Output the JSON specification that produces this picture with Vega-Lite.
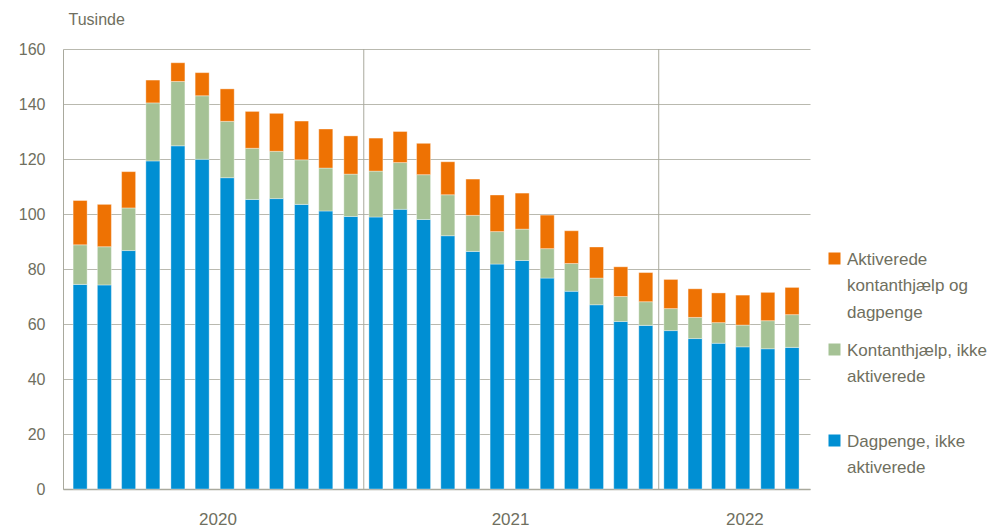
{
  "$schema": "https://vega.github.io/schema/vega-lite/v6.json",
  "width": 747,
  "height": 440,
  "autosize": {"type": "none"},
  "padding": {"left": 63, "top": 49, "right": 183, "bottom": 38},
  "background": "white",
  "config": {
    "view": {"stroke": null},
    "font": "Liberation Sans",
    "style": {"guide-label": {"lineHeight": 26.5}}
  },
  "datasets": {
    "ledige": [
      {"month": "2020-01-16", "serie": "Dagpenge, ikke aktiverede", "value": 74.4},
      {"month": "2020-01-16", "serie": "Kontanthjælp, ikke aktiverede", "value": 14.4},
      {"month": "2020-01-16", "serie": "Aktiverede kontanthjælp og dagpenge", "value": 16.1},
      {"month": "2020-02-15", "serie": "Dagpenge, ikke aktiverede", "value": 74.2},
      {"month": "2020-02-15", "serie": "Kontanthjælp, ikke aktiverede", "value": 13.9},
      {"month": "2020-02-15", "serie": "Aktiverede kontanthjælp og dagpenge", "value": 15.4},
      {"month": "2020-03-16", "serie": "Dagpenge, ikke aktiverede", "value": 86.7},
      {"month": "2020-03-16", "serie": "Kontanthjælp, ikke aktiverede", "value": 15.5},
      {"month": "2020-03-16", "serie": "Aktiverede kontanthjælp og dagpenge", "value": 13.2},
      {"month": "2020-04-15", "serie": "Dagpenge, ikke aktiverede", "value": 119.3},
      {"month": "2020-04-15", "serie": "Kontanthjælp, ikke aktiverede", "value": 21.1},
      {"month": "2020-04-15", "serie": "Aktiverede kontanthjælp og dagpenge", "value": 8.3},
      {"month": "2020-05-16", "serie": "Dagpenge, ikke aktiverede", "value": 124.8},
      {"month": "2020-05-16", "serie": "Kontanthjælp, ikke aktiverede", "value": 23.4},
      {"month": "2020-05-16", "serie": "Aktiverede kontanthjælp og dagpenge", "value": 6.8},
      {"month": "2020-06-15", "serie": "Dagpenge, ikke aktiverede", "value": 119.9},
      {"month": "2020-06-15", "serie": "Kontanthjælp, ikke aktiverede", "value": 23.1},
      {"month": "2020-06-15", "serie": "Aktiverede kontanthjælp og dagpenge", "value": 8.4},
      {"month": "2020-07-16", "serie": "Dagpenge, ikke aktiverede", "value": 113.2},
      {"month": "2020-07-16", "serie": "Kontanthjælp, ikke aktiverede", "value": 20.5},
      {"month": "2020-07-16", "serie": "Aktiverede kontanthjælp og dagpenge", "value": 11.8},
      {"month": "2020-08-16", "serie": "Dagpenge, ikke aktiverede", "value": 105.3},
      {"month": "2020-08-16", "serie": "Kontanthjælp, ikke aktiverede", "value": 18.6},
      {"month": "2020-08-16", "serie": "Aktiverede kontanthjælp og dagpenge", "value": 13.4},
      {"month": "2020-09-15", "serie": "Dagpenge, ikke aktiverede", "value": 105.6},
      {"month": "2020-09-15", "serie": "Kontanthjælp, ikke aktiverede", "value": 17.2},
      {"month": "2020-09-15", "serie": "Aktiverede kontanthjælp og dagpenge", "value": 13.8},
      {"month": "2020-10-16", "serie": "Dagpenge, ikke aktiverede", "value": 103.5},
      {"month": "2020-10-16", "serie": "Kontanthjælp, ikke aktiverede", "value": 16.2},
      {"month": "2020-10-16", "serie": "Aktiverede kontanthjælp og dagpenge", "value": 14.1},
      {"month": "2020-11-15", "serie": "Dagpenge, ikke aktiverede", "value": 101.1},
      {"month": "2020-11-15", "serie": "Kontanthjælp, ikke aktiverede", "value": 15.6},
      {"month": "2020-11-15", "serie": "Aktiverede kontanthjælp og dagpenge", "value": 14.2},
      {"month": "2020-12-16", "serie": "Dagpenge, ikke aktiverede", "value": 99.1},
      {"month": "2020-12-16", "serie": "Kontanthjælp, ikke aktiverede", "value": 15.4},
      {"month": "2020-12-16", "serie": "Aktiverede kontanthjælp og dagpenge", "value": 13.9},
      {"month": "2021-01-16", "serie": "Dagpenge, ikke aktiverede", "value": 98.9},
      {"month": "2021-01-16", "serie": "Kontanthjælp, ikke aktiverede", "value": 16.7},
      {"month": "2021-01-16", "serie": "Aktiverede kontanthjælp og dagpenge", "value": 12.0},
      {"month": "2021-02-15", "serie": "Dagpenge, ikke aktiverede", "value": 101.7},
      {"month": "2021-02-15", "serie": "Kontanthjælp, ikke aktiverede", "value": 17.0},
      {"month": "2021-02-15", "serie": "Aktiverede kontanthjælp og dagpenge", "value": 11.3},
      {"month": "2021-03-16", "serie": "Dagpenge, ikke aktiverede", "value": 98.0},
      {"month": "2021-03-16", "serie": "Kontanthjælp, ikke aktiverede", "value": 16.3},
      {"month": "2021-03-16", "serie": "Aktiverede kontanthjælp og dagpenge", "value": 11.4},
      {"month": "2021-04-15", "serie": "Dagpenge, ikke aktiverede", "value": 92.1},
      {"month": "2021-04-15", "serie": "Kontanthjælp, ikke aktiverede", "value": 14.9},
      {"month": "2021-04-15", "serie": "Aktiverede kontanthjælp og dagpenge", "value": 12.0},
      {"month": "2021-05-16", "serie": "Dagpenge, ikke aktiverede", "value": 86.4},
      {"month": "2021-05-16", "serie": "Kontanthjælp, ikke aktiverede", "value": 13.1},
      {"month": "2021-05-16", "serie": "Aktiverede kontanthjælp og dagpenge", "value": 13.2},
      {"month": "2021-06-15", "serie": "Dagpenge, ikke aktiverede", "value": 81.8},
      {"month": "2021-06-15", "serie": "Kontanthjælp, ikke aktiverede", "value": 11.8},
      {"month": "2021-06-15", "serie": "Aktiverede kontanthjælp og dagpenge", "value": 13.3},
      {"month": "2021-07-16", "serie": "Dagpenge, ikke aktiverede", "value": 83.1},
      {"month": "2021-07-16", "serie": "Kontanthjælp, ikke aktiverede", "value": 11.4},
      {"month": "2021-07-16", "serie": "Aktiverede kontanthjælp og dagpenge", "value": 13.1},
      {"month": "2021-08-16", "serie": "Dagpenge, ikke aktiverede", "value": 76.7},
      {"month": "2021-08-16", "serie": "Kontanthjælp, ikke aktiverede", "value": 10.7},
      {"month": "2021-08-16", "serie": "Aktiverede kontanthjælp og dagpenge", "value": 12.2},
      {"month": "2021-09-15", "serie": "Dagpenge, ikke aktiverede", "value": 71.9},
      {"month": "2021-09-15", "serie": "Kontanthjælp, ikke aktiverede", "value": 10.1},
      {"month": "2021-09-15", "serie": "Aktiverede kontanthjælp og dagpenge", "value": 11.9},
      {"month": "2021-10-16", "serie": "Dagpenge, ikke aktiverede", "value": 67.0},
      {"month": "2021-10-16", "serie": "Kontanthjælp, ikke aktiverede", "value": 9.7},
      {"month": "2021-10-16", "serie": "Aktiverede kontanthjælp og dagpenge", "value": 11.3},
      {"month": "2021-11-15", "serie": "Dagpenge, ikke aktiverede", "value": 60.9},
      {"month": "2021-11-15", "serie": "Kontanthjælp, ikke aktiverede", "value": 9.1},
      {"month": "2021-11-15", "serie": "Aktiverede kontanthjælp og dagpenge", "value": 10.8},
      {"month": "2021-12-16", "serie": "Dagpenge, ikke aktiverede", "value": 59.5},
      {"month": "2021-12-16", "serie": "Kontanthjælp, ikke aktiverede", "value": 8.6},
      {"month": "2021-12-16", "serie": "Aktiverede kontanthjælp og dagpenge", "value": 10.6},
      {"month": "2022-01-16", "serie": "Dagpenge, ikke aktiverede", "value": 57.6},
      {"month": "2022-01-16", "serie": "Kontanthjælp, ikke aktiverede", "value": 8.0},
      {"month": "2022-01-16", "serie": "Aktiverede kontanthjælp og dagpenge", "value": 10.6},
      {"month": "2022-02-15", "serie": "Dagpenge, ikke aktiverede", "value": 54.7},
      {"month": "2022-02-15", "serie": "Kontanthjælp, ikke aktiverede", "value": 7.7},
      {"month": "2022-02-15", "serie": "Aktiverede kontanthjælp og dagpenge", "value": 10.4},
      {"month": "2022-03-16", "serie": "Dagpenge, ikke aktiverede", "value": 53.0},
      {"month": "2022-03-16", "serie": "Kontanthjælp, ikke aktiverede", "value": 7.5},
      {"month": "2022-03-16", "serie": "Aktiverede kontanthjælp og dagpenge", "value": 10.8},
      {"month": "2022-04-15", "serie": "Dagpenge, ikke aktiverede", "value": 51.7},
      {"month": "2022-04-15", "serie": "Kontanthjælp, ikke aktiverede", "value": 7.9},
      {"month": "2022-04-15", "serie": "Aktiverede kontanthjælp og dagpenge", "value": 10.9},
      {"month": "2022-05-16", "serie": "Dagpenge, ikke aktiverede", "value": 51.0},
      {"month": "2022-05-16", "serie": "Kontanthjælp, ikke aktiverede", "value": 10.2},
      {"month": "2022-05-16", "serie": "Aktiverede kontanthjælp og dagpenge", "value": 10.3},
      {"month": "2022-06-15", "serie": "Dagpenge, ikke aktiverede", "value": 51.5},
      {"month": "2022-06-15", "serie": "Kontanthjælp, ikke aktiverede", "value": 11.9},
      {"month": "2022-06-15", "serie": "Aktiverede kontanthjælp og dagpenge", "value": 9.9}
    ],
    "aarsskift": [
      {"year_start": "2021-01-01"},
      {"year_start": "2022-01-01"}
    ]
  },
  "layer": [
    {
      "data": {"name": "aarsskift"},
      "mark": {"type": "rule", "color": "#a9a99d", "strokeWidth": 1},
      "encoding": {
        "x": {
          "field": "year_start",
          "type": "temporal",
          "scale": {
            "type": "utc",
            "domain": [
              {"year": 2020, "month": 1, "date": 1, "utc": true},
              {"year": 2022, "month": 7, "date": 1, "utc": true}
            ]
          },
          "axis": {
            "title": null,
            "values": [
              {"year": 2020, "month": 7, "date": 4, "utc": true},
              {"year": 2021, "month": 7, "date": 1, "utc": true},
              {"year": 2022, "month": 4, "date": 17, "utc": true}
            ],
            "labelExpr": "utcFormat(datum.value, '%Y')",
            "grid": false,
            "ticks": false,
            "domain": true,
            "domainColor": "#a9a99d",
            "domainWidth": 1.5,
            "labelFontSize": 17,
            "labelColor": "#6f6f60",
            "labelPadding": 22,
            "labelFlush": false
          }
        }
      }
    },
    {
      "data": {"name": "ledige"},
      "transform": [
        {"calculate": "indexof(['Dagpenge, ikke aktiverede','Kontanthjælp, ikke aktiverede','Aktiverede kontanthjælp og dagpenge'], datum.serie)", "as": "stack_rank"}
      ],
      "mark": {"type": "bar", "width": 14, "orient": "vertical", "stroke": "white", "strokeOpacity": 0.35, "strokeWidth": 1},
      "encoding": {
        "x": {
          "field": "month",
          "type": "temporal",
          "scale": {
            "type": "utc",
            "domain": [
              {"year": 2020, "month": 1, "date": 1, "utc": true},
              {"year": 2022, "month": 7, "date": 1, "utc": true}
            ]
          },
          "axis": {
            "title": null,
            "values": [
              {"year": 2020, "month": 7, "date": 4, "utc": true},
              {"year": 2021, "month": 7, "date": 1, "utc": true},
              {"year": 2022, "month": 4, "date": 17, "utc": true}
            ],
            "labelExpr": "utcFormat(datum.value, '%Y')",
            "grid": false,
            "ticks": false,
            "domain": true,
            "domainColor": "#a9a99d",
            "domainWidth": 1.5,
            "labelFontSize": 17,
            "labelColor": "#6f6f60",
            "labelPadding": 22,
            "labelFlush": false
          }
        },
        "y": {
          "field": "value",
          "type": "quantitative",
          "stack": "zero",
          "scale": {"domain": [0, 160], "nice": false},
          "axis": {
            "values": [0, 20, 40, 60, 80, 100, 120, 140, 160],
            "title": "Tusinde",
            "titleAngle": 0,
            "titleAlign": "left",
            "titleBaseline": "alphabetic",
            "titleX": 5,
            "titleY": -24.5,
            "titleFontWeight": "normal",
            "titleFontSize": 16,
            "titleColor": "#6f6f60",
            "grid": true,
            "gridColor": "#b9b9af",
            "ticks": false,
            "domain": true,
            "domainColor": "#a9a99d",
            "labelFontSize": 16,
            "labelColor": "#6f6f60",
            "labelPadding": 18
          }
        },
        "color": {
          "field": "serie",
          "type": "nominal",
          "scale": {
            "domain": ["Aktiverede kontanthjælp og dagpenge", "Kontanthjælp, ikke aktiverede", "Dagpenge, ikke aktiverede"],
            "range": ["#ee7203", "#a5c295", "#008fd3"]
          },
          "legend": {
            "orient": "none",
            "legendX": 763,
            "legendY": 207,
            "title": null,
            "padding": 0,
            "symbolType": "M-1,-2H1V0H-1Z",
            "symbolSize": 144,
            "symbolStrokeWidth": 0,
            "symbolOpacity": 1,
            "labelFontSize": 17,
            "labelColor": "#6f6f60",
            "labelOffset": 4,
            "labelBaseline": "alphabetic",
            "labelLimit": 300,
            "rowPadding": 20,
            "labelExpr": "datum.label == 'Aktiverede kontanthjælp og dagpenge' ? ['Aktiverede', 'kontanthjælp og', 'dagpenge'] : datum.label == 'Kontanthjælp, ikke aktiverede' ? ['Kontanthjælp, ikke', 'aktiverede', ''] : ['Dagpenge, ikke', 'aktiverede', '']"
          }
        },
        "order": {"field": "stack_rank", "type": "quantitative"}
      }
    }
  ]
}
